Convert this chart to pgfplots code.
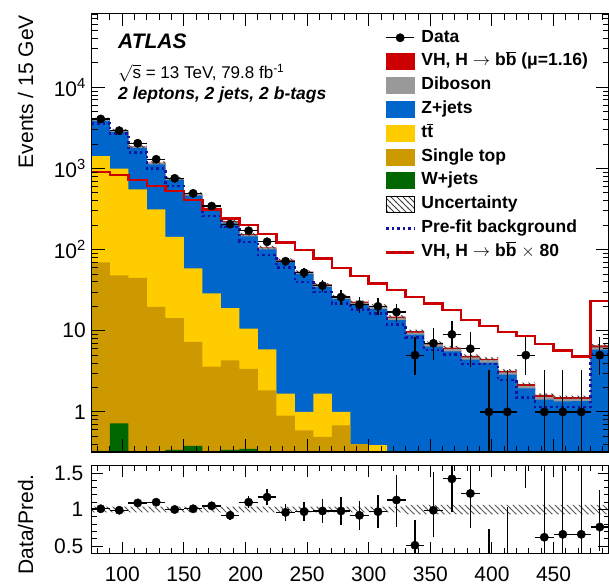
\documentclass[border=0pt]{standalone}
\usepackage{pgfplots}
\pgfplotsset{compat=1.18}
\usepackage{pgfplotstable}
\usepackage{fontspec}
\setmainfont{Liberation Sans}
\usetikzlibrary{patterns}

\definecolor{cVH}{RGB}{204,0,0}
\definecolor{cDB}{RGB}{153,153,153}
\definecolor{cZ}{RGB}{0,102,204}
\definecolor{cTT}{RGB}{255,204,0}
\definecolor{cST}{RGB}{204,153,0}
\definecolor{cW}{RGB}{0,102,0}
\definecolor{cPre}{RGB}{20,20,160}

\pgfdeclarepatternformonly{hatchnw}{\pgfqpoint{-1pt}{-1pt}}{\pgfqpoint{7pt}{7pt}}{\pgfqpoint{6pt}{6pt}}{%
 \pgfsetlinewidth{0.8pt}%
 \pgfpathmoveto{\pgfqpoint{-0.5pt}{6.5pt}}%
 \pgfpathlineto{\pgfqpoint{6.5pt}{-0.5pt}}%
 \pgfusepath{stroke}}

% cumulative stack tops (left bin edge)
\pgfplotstableread{
x tot dib z tt st w
75 0.01 0.01 0.01 0.01 0.01 0.01
75 4045 4032 3870 1425 69.5 0.01
90 2960 2948 2830 1000 48 0.72
105 1880 1870 1795 553 45 0.01
120 1180 1171 1124 313 19.7 0.01
135 757 749 719 144 14.3 0.34
150 489 483 463 58.6 7.3 0.38
165 328 323.5 310 28.8 3.6 0.01
180 224 220.5 211.5 19 4.3 0.34
195 155 152 146 10.6 3.4 0.35
210 107 104.8 100.5 5.9 1.84 0.01
225 75 73.2 70.2 1.68 0.9 0.01
240 53.6 52.2 50.1 1.0 0.59 0.01
255 37.2 36.1 34.6 1.68 0.49 0.01
270 26.5 25.6 24.6 1.0 0.68 0.01
285 22.8 22.1 21.2 0.40 0.40 0.01
300 20.3 19.7 18.5 0.39 0.01 0.01
315 14.9 14.4 13.55 0.01 0.01 0.01
330 9.9 9.5 8.93 0.01 0.01 0.01
345 7.1 6.8 6.36 0.01 0.01 0.01
360 6.2 5.94 5.57 0.01 0.01 0.01
375 4.9 4.7 4.41 0.01 0.01 0.01
390 4.5 4.33 4.06 0.01 0.01 0.01
405 3.2 3.06 2.87 0.01 0.01 0.01
420 2.2 2.08 1.95 0.01 0.01 0.01
435 1.62 1.52 1.42 0.01 0.01 0.01
450 1.52 1.44 1.35 0.01 0.01 0.01
465 1.52 1.45 1.36 0.01 0.01 0.01
480 6.6 6.26 5.86 0.01 0.01 0.01
495 6.6 6.26 5.86 0.01 0.01 0.01
495 0.01 0.01 0.01 0.01 0.01 0.01
}\fillt

\pgfplotstableread{
x sig pre
75 912 3610
90 832 2716
105 721 1585
120 608 1000
135 532 608
150 408 408
165 313 259
180 243 191
195 200 125
210 155 85.5
225 123 60
240 99 40
255 78 30
270 59 21.7
285 47 18.2
300 38.5 16.3
315 31.6 12
330 26 8.2
345 21.7 5.75
360 17.9 5.1
375 13.5 3.9
390 11.4 3.9
405 9.7 2.46
420 8.6 1.5
435 6.9 1.15
450 5.7 1.15
465 4.8 1.15
480 23.3 5.2
495 23.3 5.2
}\linet

\pgfplotstableread{
x y
75 4207
90 3078
105 1955
120 1227
135 787
150 509
165 341
180 233
195 161
210 111.3
225 78
240 55.7
255 38.7
270 27.6
285 23.7
300 21.1
315 15.5
330 10.3
345 7.38
360 6.45
375 5.1
390 4.68
405 3.33
420 2.29
435 1.68
450 1.58
465 1.58
480 6.86
495 6.86
495 6.34
480 1.46
465 1.46
450 1.56
435 2.11
420 3.07
405 4.32
390 4.7
375 5.95
360 6.82
345 9.5
330 14.3
315 19.5
300 21.9
285 25.4
270 35.7
255 51.5
240 72
225 102.7
210 149
195 215
180 315
165 469
150 727
135 1133
120 1805
105 2842
90 3883
75 3883
}\bandt

\pgfplotstableread{
x y ep em
82.5 4085 64 64
97.5 2930 54 54
112.5 2050 45 45
127.5 1300 36 36
142.5 757 27.5 27.5
157.5 494 22.2 22.2
172.5 344 18.5 18.5
187.5 206 14.4 14.4
202.5 171 13.1 13.1
217.5 125 11.2 11.2
232.5 72 9 8.5
247.5 52 7.7 7.2
262.5 36 6.5 6
277.5 26 5.6 5.1
292.5 21 5.1 4.6
307.5 20 5 4.5
322.5 17 4.6 4.1
337.5 5 3.38 2.16
352.5 7 3.77 2.58
367.5 9 4.1 2.94
382.5 6 3.58 2.38
397.5 1 2.3 0.827
412.5 1 2.3 0.827
427.5 5 3.38 2.16
442.5 1 2.3 0.827
457.5 1 2.3 0.827
472.5 1 2.3 0.827
487.5 5 3.38 2.16
}\datat

\pgfplotstableread{
x r ep em
82.5 1.01 0.016 0.016
97.5 0.99 0.018 0.018
112.5 1.09 0.024 0.024
127.5 1.10 0.03 0.03
142.5 1.00 0.036 0.036
157.5 1.01 0.045 0.045
172.5 1.05 0.057 0.057
187.5 0.92 0.064 0.064
202.5 1.10 0.084 0.084
217.5 1.17 0.105 0.105
232.5 0.96 0.113 0.113
247.5 0.97 0.134 0.134
262.5 0.98 0.163 0.163
277.5 0.98 0.192 0.192
292.5 0.92 0.2 0.2
307.5 0.97 0.23 0.23
322.5 1.13 0.34 0.37
337.5 0.51 0.34 0.22
352.5 0.99 0.53 0.37
367.5 1.42 0.66 0.46
382.5 1.22 0.74 0.48
397.5 0.22 0.51 0.18
412.5 0.31 0.72 0.26
427.5 2.27 1.53 0.98
442.5 0.62 1.42 0.51
457.5 0.66 1.51 0.55
472.5 0.66 1.51 0.55
487.5 0.76 0.51 0.33
}\ratiot

\begin{document}
\begin{tikzpicture}[x=1pt,y=1pt]
\useasboundingbox (0,0) rectangle (609,586);
\begin{axis}[
  at={(91.5pt,134pt)}, anchor=south west,
  width=517.5pt, height=438.7pt, scale only axis,
  xmin=75, xmax=495, ymode=log, ymin=0.32, ymax=8.2e4,
  axis on top, clip=true,
  axis line style={line width=1.3pt},
  every tick/.style={black, line width=1pt},
  major tick length=13pt, minor tick length=6.5pt,
  xtick={100,150,200,250,300,350,400,450}, xticklabels={},
  minor xtick={80,90,110,120,130,140,160,170,180,190,210,220,230,240,260,270,280,290,310,320,330,340,360,370,380,390,410,420,430,440,460,470,480,490},
  ytick={1,10,100,1000,10000},
  yticklabels={1,10,10\textsuperscript{2},10\textsuperscript{3},10\textsuperscript{4}},
  minor ytick={0.4,0.5,0.6,0.7,0.8,0.9,2,3,4,5,6,7,8,9,20,30,40,50,60,70,80,90,200,300,400,500,600,700,800,900,2000,3000,4000,5000,6000,7000,8000,9000,20000,30000,40000,50000,60000,70000,80000},
  tick label style={font=\fontsize{21}{25}\selectfont},
  yticklabel style={inner sep=0pt, xshift=-5.5pt},
  ylabel={Events / 15 GeV},
  ylabel style={font=\fontsize{21}{25}\selectfont, at={(axis description cs:-0.113,0.996)}, anchor=base east, inner sep=0pt},
  legend style={draw=none, fill=none, inner sep=0pt, outer sep=0pt,
    at={(axis description cs:0.567,0.963)}, anchor=north west,
    font=\fontsize{17.5}{20}\selectfont\bfseries, row sep=7.3pt,
    nodes={inner sep=0pt, text height=12.5pt, text depth=4pt},
    /tikz/every odd column/.append style={column sep=6pt}},
  legend cell align=left,
]
\addplot[const plot, fill=cVH, draw=none, forget plot] table[x=x,y=tot]{\fillt};
\addplot[const plot, fill=cDB, draw=none, forget plot] table[x=x,y=dib]{\fillt};
\addplot[const plot, fill=cZ, draw=none, forget plot] table[x=x,y=z]{\fillt};
\addplot[const plot, fill=cTT, draw=none, forget plot] table[x=x,y=tt]{\fillt};
\addplot[const plot, fill=cST, draw=none, forget plot] table[x=x,y=st]{\fillt};
\addplot[const plot, fill=cW, draw=none, forget plot] table[x=x,y=w]{\fillt};
\addplot[const plot, draw=none, pattern=hatchnw, pattern color=black!75, forget plot] table[x=x,y=y]{\bandt};
\addplot[const plot, cPre, line width=2.5pt, dash pattern=on 2.5pt off 3pt, forget plot] table[x=x,y=pre]{\linet};
\addplot[const plot, cVH, line width=2.5pt, forget plot] table[x=x,y=sig]{\linet};
\addplot[only marks, mark=*, mark size=4.2pt, black, forget plot,
  error bars/.cd, x dir=both, x fixed=7.5, y dir=both, y explicit,
  error bar style={line width=1.3pt, black}, error mark=none]
  table[x=x, y=y, y error plus=ep, y error minus=em]{\datat};

\addlegendimage{legend image code/.code={\draw[black,line width=1.3pt](0pt,0pt)--(28pt,0pt);\fill[black](14pt,0pt) circle (4.2pt);}}
\addlegendentry{Data}
\addlegendimage{legend image code/.code={\fill[cVH](0pt,-8pt) rectangle (28pt,8pt);}}
\addlegendentry{VH, H $\rightarrow$ b$\overline{\mbox{b}}$ (μ=1.16)}
\addlegendimage{legend image code/.code={\fill[cDB](0pt,-8pt) rectangle (28pt,8pt);}}
\addlegendentry{Diboson}
\addlegendimage{legend image code/.code={\fill[cZ](0pt,-8pt) rectangle (28pt,8pt);}}
\addlegendentry{Z+jets}
\addlegendimage{legend image code/.code={\fill[cTT](0pt,-8pt) rectangle (28pt,8pt);}}
\addlegendentry{t$\overline{\mbox{t}}$}
\addlegendimage{legend image code/.code={\fill[cST](0pt,-8pt) rectangle (28pt,8pt);}}
\addlegendentry{Single top}
\addlegendimage{legend image code/.code={\fill[cW](0pt,-8pt) rectangle (28pt,8pt);}}
\addlegendentry{W+jets}
\addlegendimage{legend image code/.code={\draw[black,line width=0.8pt,pattern=hatchnw,pattern color=black!75](0pt,-8pt) rectangle (28pt,8pt);}}
\addlegendentry{Uncertainty}
\addlegendimage{legend image code/.code={\draw[cPre,line width=2.5pt,dash pattern=on 2.5pt off 3pt](0pt,0pt)--(28pt,0pt);}}
\addlegendentry{Pre-fit background}
\addlegendimage{legend image code/.code={\draw[cVH,line width=2.5pt](0pt,0pt)--(28pt,0pt);}}
\addlegendentry{VH, H $\rightarrow$ b$\overline{\mbox{b}}$ $\times$ 80}
\end{axis}

\begin{axis}[
  at={(91.5pt,32.7pt)}, anchor=south west,
  width=517.5pt, height=87.6pt, scale only axis,
  xmin=75, xmax=495, ymin=0.4, ymax=1.6,
  axis on top, clip=true,
  axis line style={line width=1.3pt},
  every tick/.style={black, line width=1pt},
  major tick length=11pt, minor tick length=5.5pt,
  xtick={100,150,200,250,300,350,400,450},
  xticklabels={100,150,200,250,300,350,400,450},
  minor xtick={80,90,110,120,130,140,160,170,180,190,210,220,230,240,260,270,280,290,310,320,330,340,360,370,380,390,410,420,430,440,460,470,480,490},
  ytick={0.5,1,1.5}, yticklabels={0.5,1,1.5},
  minor ytick={0.6,0.7,0.8,0.9,1.1,1.2,1.3,1.4},
  tick label style={font=\fontsize{21}{25}\selectfont},
  xticklabel style={inner sep=0pt, yshift=-13.7pt},
  yticklabel style={inner sep=0pt, xshift=-8pt},
  ylabel={Data/Pred.},
  ylabel style={font=\fontsize{21}{25}\selectfont, at={(axis description cs:-0.113,0.33)}, anchor=base, inner sep=0pt},
]
\addplot[draw=none, pattern=hatchnw, pattern color=black!65, forget plot]
  coordinates {(75,0.96)(330,0.96)(330,0.935)(495,0.935)(495,1.065)(330,1.065)(330,1.04)(75,1.04)};
\addplot[only marks, mark=*, mark size=4.2pt, black, forget plot,
  error bars/.cd, x dir=both, x fixed=7.5, y dir=both, y explicit,
  error bar style={line width=1.3pt, black}, error mark=none]
  table[x=x, y=r, y error plus=ep, y error minus=em]{\ratiot};
\end{axis}

\node[anchor=base west, inner sep=0pt, font=\fontsize{21}{25}\selectfont\bfseries\itshape] at (118,537) {ATLAS};
\node[anchor=base west, inner sep=0pt, font=\fontsize{17}{20}\selectfont] at (118,507) {$\sqrt{\mbox{s}}$ = 13 TeV, 79.8 fb\textsuperscript{-1}};
\node[anchor=base west, inner sep=0pt, font=\fontsize{17.5}{20}\selectfont\bfseries\itshape] at (118,486) {2 leptons, 2 jets, 2 b-tags};
\end{tikzpicture}
\end{document}
